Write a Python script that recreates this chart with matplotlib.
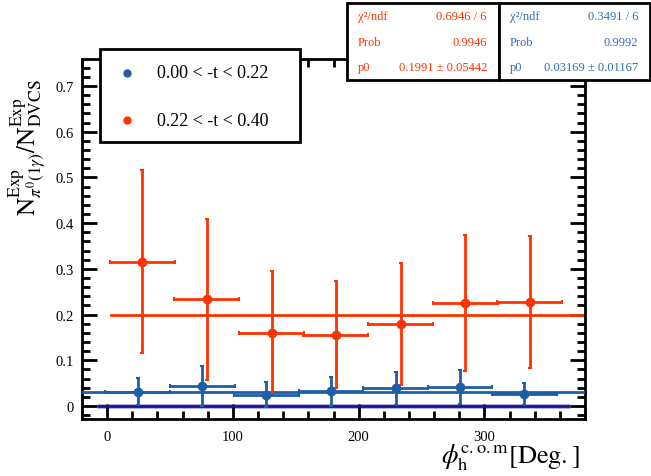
import matplotlib
matplotlib.use("Agg")
import matplotlib.pyplot as plt
from matplotlib.patches import Rectangle
from matplotlib.ticker import MultipleLocator

plt.rcParams['font.family'] = ['Liberation Serif', 'DejaVu Serif']
plt.rcParams['mathtext.fontset'] = 'stix'

# ---- data ----
blue_label = "0.00 < -t < 0.22"
red_label = "0.22 < -t < 0.40"
blue_x = [24.4, 75.6, 126.7, 178.0, 229.4, 280.6, 331.7]
blue_y = [0.0313, 0.0438, 0.0248, 0.0320, 0.0387, 0.0423, 0.0263]
blue_yerr = [0.030, 0.044, 0.028, 0.031, 0.036, 0.037, 0.024]
red_x = [28.1, 79.3, 130.7, 181.9, 233.3, 284.8, 336.0]
red_y = [0.316, 0.233, 0.160, 0.156, 0.180, 0.225, 0.227]
red_yerr = [0.200, 0.176, 0.135, 0.117, 0.133, 0.149, 0.144]
xerr_half = 25.8

blue_fit = 0.03169
red_fit = 0.1991
red_stats = [("χ²/ndf", "0.6946 / 6"), ("Prob", "0.9946"), ("p0", "0.1991 ± 0.05442")]
blue_stats = [("χ²/ndf", "0.3491 / 6"), ("Prob", "0.9992"), ("p0", "0.03169 ± 0.01167")]

RED = "#ff3300"
BLUE = "#1d5fa6"
NAVY = "#14148a"

W, H = 651, 477
fig = plt.figure(figsize=(W / 100, H / 100), dpi=100)

def fx(px):
    return px / W

def fy(py):
    return 1 - py / H

ax = fig.add_axes([fx(82), fy(420), fx(585) - fx(82), fy(60) - fy(420)])
ax.set_xlim(-20, 380)
ax.set_ylim(-0.0284, 0.759)

# zero line
ax.plot([-8, 368], [0, 0], color="#b0a8e0", lw=3.5, zorder=1, solid_capstyle='butt')
ax.plot([-8, 368], [0, 0], color=NAVY, lw=2, zorder=2, solid_capstyle='butt')

# fit lines
ax.plot([-20, 380], [blue_fit, blue_fit], color=BLUE, lw=2, zorder=3)
ax.plot([3, 378], [red_fit, red_fit], color=RED, lw=2, zorder=3)

ax.errorbar(red_x, red_y, yerr=red_yerr, xerr=xerr_half, fmt='o', color=RED,
            ms=6, elinewidth=2, capsize=1.5, capthick=1.5, zorder=4)
ax.errorbar(blue_x, blue_y, yerr=blue_yerr, xerr=xerr_half, fmt='o', color=BLUE,
            ms=6, elinewidth=2, capsize=1.5, capthick=1.5, zorder=5)

ax.xaxis.set_major_locator(MultipleLocator(100))
ax.xaxis.set_minor_locator(MultipleLocator(20))
ax.yaxis.set_major_locator(MultipleLocator(0.1))
ax.yaxis.set_minor_locator(MultipleLocator(0.02))
ax.tick_params(which='both', direction='in', top=True, right=True, width=2, labelsize=10.5)
ax.tick_params(which='major', length=11)
ax.tick_params(which='minor', length=6)
ax.tick_params(axis='x', pad=8)
ax.tick_params(axis='y', pad=6)
for s in ax.spines.values():
    s.set_linewidth(2)
ax.set_yticks([0, 0.1, 0.2, 0.3, 0.4, 0.5, 0.6, 0.7])
ax.set_yticklabels(["0", "0.1", "0.2", "0.3", "0.4", "0.5", "0.6", "0.7"])

fig.text(fx(28), fy(148),
         r"$\mathrm{N}^{\mathrm{Exp}}_{\pi^0(1\gamma)}/\mathrm{N}^{\mathrm{Exp}}_{\mathrm{DVCS}}$",
         fontsize=18, rotation=90, ha='center', va='center')
fig.text(fx(580), fy(458), r"$\phi_{\mathrm{h}}^{\mathrm{c.o.m}}[\mathrm{Deg.}]$", fontsize=19,
         ha='right', va='center')

# legend box
fig.patches.append(Rectangle((fx(100), fy(143)), fx(300) - fx(100), fy(50) - fy(143),
                             transform=fig.transFigure, fill=True, facecolor='white',
                             edgecolor='black', lw=2, zorder=10))
fig.lines.append(plt.Line2D([fx(127)], [fy(74)], marker='o', ms=5, color=BLUE,
                            transform=fig.transFigure, zorder=11))
fig.lines.append(plt.Line2D([fx(127)], [fy(121)], marker='o', ms=5, color=RED,
                            transform=fig.transFigure, zorder=11))
fig.text(fx(157), fy(74), blue_label, fontsize=13, va='center', ha='left', zorder=12)
fig.text(fx(157), fy(121), red_label, fontsize=13, va='center', ha='left', zorder=12)

# stats boxes
def stats_box(x0, x1, stats, color):
    fig.patches.append(Rectangle((fx(x0), fy(81)), fx(x1) - fx(x0), fy(4) - fy(81),
                                 transform=fig.transFigure, facecolor='white',
                                 edgecolor='black', lw=2, zorder=10))
    rows = [17, 43, 68]
    for (k, v), r in zip(stats, rows):
        fig.text(fx(x0 + 11), fy(r), k, color=color, fontsize=9, va='center', ha='left', zorder=12)
        fig.text(fx(x1 - 12), fy(r), v, color=color, fontsize=9, va='center', ha='right', zorder=12)

stats_box(347, 499, red_stats, RED)
stats_box(499, 650, blue_stats, "#2f6db3")

fig.savefig("out.png", dpi=100)
